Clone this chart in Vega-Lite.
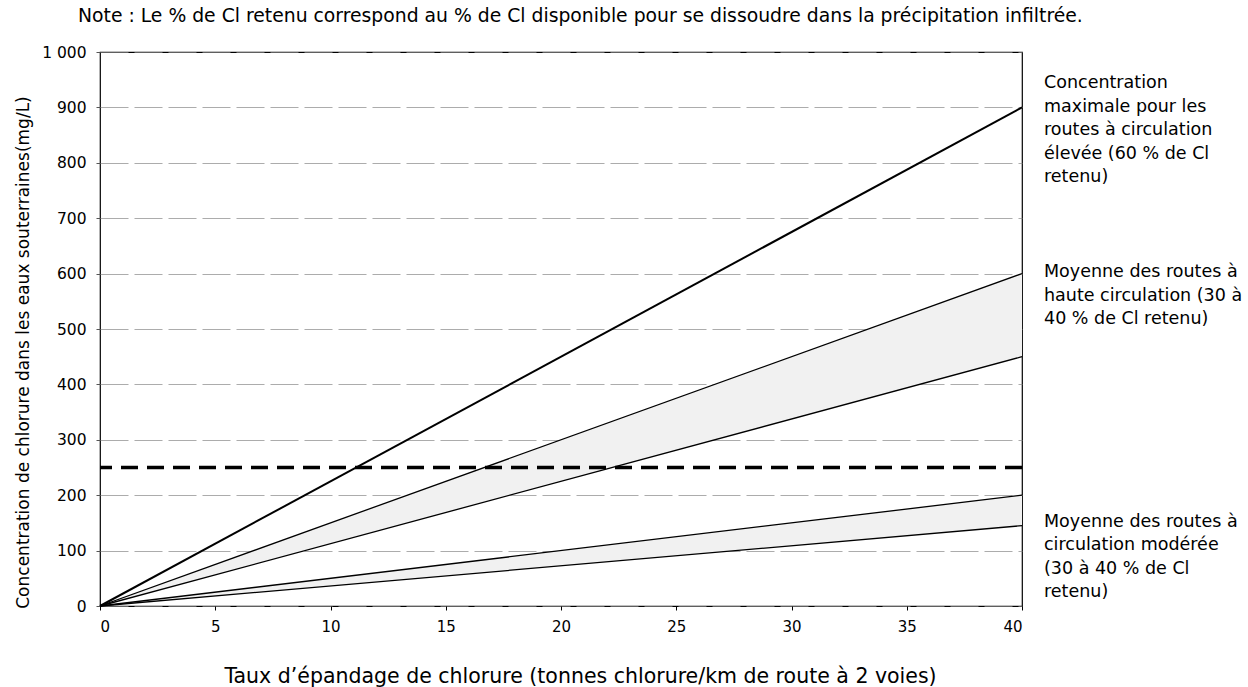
{
  "$schema": "https://vega.github.io/schema/vega-lite/v6.json",
  "autosize": "none",
  "width": 922,
  "height": 554,
  "padding": {"left": 100, "top": 52, "right": 226, "bottom": 81},
  "background": "white",
  "config": {
    "font": "DejaVu Sans",
    "view": {"stroke": "black", "strokeWidth": 1.2},
    "axis": {"labelFont": "DejaVu Sans", "titleFont": "DejaVu Sans", "labelColor": "black", "titleColor": "black", "titleFontWeight": "normal"}
  },
  "title": {
    "text": "Note : Le % de Cl retenu correspond au % de Cl disponible pour se dissoudre dans la précipitation infiltrée.",
    "anchor": "start",
    "frame": "group",
    "dx": -22,
    "offset": 19,
    "fontSize": 18.8,
    "fontWeight": "normal",
    "font": "DejaVu Sans",
    "color": "black"
  },
  "datasets": {
    "lines": [
      {"s": "max", "x": 0, "y": 0}, {"s": "max", "x": 40, "y": 900},
      {"s": "h40", "x": 0, "y": 0}, {"s": "h40", "x": 40, "y": 600},
      {"s": "h30", "x": 0, "y": 0}, {"s": "h30", "x": 40, "y": 450},
      {"s": "m40", "x": 0, "y": 0}, {"s": "m40", "x": 40, "y": 200},
      {"s": "m30", "x": 0, "y": 0}, {"s": "m30", "x": 40, "y": 145}
    ],
    "bands": [
      {"b": "haute", "x": 0, "lo": 0, "hi": 0}, {"b": "haute", "x": 40, "lo": 450, "hi": 600},
      {"b": "mod", "x": 0, "lo": 0, "hi": 0}, {"b": "mod", "x": 40, "lo": 145, "hi": 200}
    ],
    "labels": [
      {"x": 40, "y": 960, "t": ["Concentration", "maximale pour les", "routes à circulation", "élevée (60 % de Cl", "retenu)"]},
      {"x": 40, "y": 619, "t": ["Moyenne des routes à", "haute circulation (30 à", "40 % de Cl retenu)"]},
      {"x": 40, "y": 168, "t": ["Moyenne des routes à", "circulation modérée", "(30 à 40 % de Cl", "retenu)"]}
    ]
  },
  "layer": [
    {
      "data": {"name": "bands"},
      "mark": {"type": "area", "color": "#f1f1f1", "opacity": 1},
      "encoding": {
        "x": {"field": "x", "type": "quantitative", "scale": {"domain": [0, 40], "nice": false},
          "axis": {"values": [0, 5, 10, 15, 20, 25, 30, 35, 40], "grid": false, "domain": false, "ticks": true, "tickSize": 4, "tickColor": "black", "labelFontSize": 15, "labelPadding": 9, "title": "Taux d’épandage de chlorure (tonnes chlorure/km de route à 2 voies)", "titleFontSize": 20.5, "titlePadding": 32, "titleX": 480}},
        "y": {"field": "lo", "type": "quantitative", "scale": {"domain": [0, 1000], "nice": false},
          "axis": {"values": [0, 100, 200, 300, 400, 500, 600, 700, 800, 900, 1000], "labelExpr": "replace(format(datum.value, ','), ',', ' ')", "grid": true, "gridColor": "#888", "gridWidth": 0.7, "gridDash": [28, 6], "domain": false, "ticks": true, "tickSize": 4, "tickColor": "#555", "labelFontSize": 15.5, "labelPadding": 10, "title": "Concentration de chlorure dans les eaux souterraines(mg/L)", "titleFontSize": 17, "titlePadding": 9, "titleY": 300}},
        "y2": {"field": "hi"},
        "detail": {"field": "b"}
      }
    },
    {
      "data": {"name": "lines"},
      "mark": {"type": "line", "color": "black"},
      "encoding": {
        "x": {"field": "x", "type": "quantitative"},
        "y": {"field": "y", "type": "quantitative"},
        "detail": {"field": "s"},
        "strokeWidth": {"condition": {"test": "datum.s === 'max'", "value": 2}, "value": 1.3}
      }
    },
    {
      "data": {"values": [{"v": 250}]},
      "mark": {"type": "rule", "color": "black", "strokeWidth": 3.5, "strokeDash": [17, 9]},
      "encoding": {"y": {"field": "v", "type": "quantitative"}}
    },
    {
      "data": {"name": "labels"},
      "mark": {"type": "text", "align": "left", "baseline": "top", "dx": 22, "fontSize": 17.5, "lineHeight": 23.5, "color": "black", "font": "DejaVu Sans"},
      "encoding": {
        "x": {"field": "x", "type": "quantitative"},
        "y": {"field": "y", "type": "quantitative"},
        "text": {"field": "t"}
      }
    }
  ]
}
